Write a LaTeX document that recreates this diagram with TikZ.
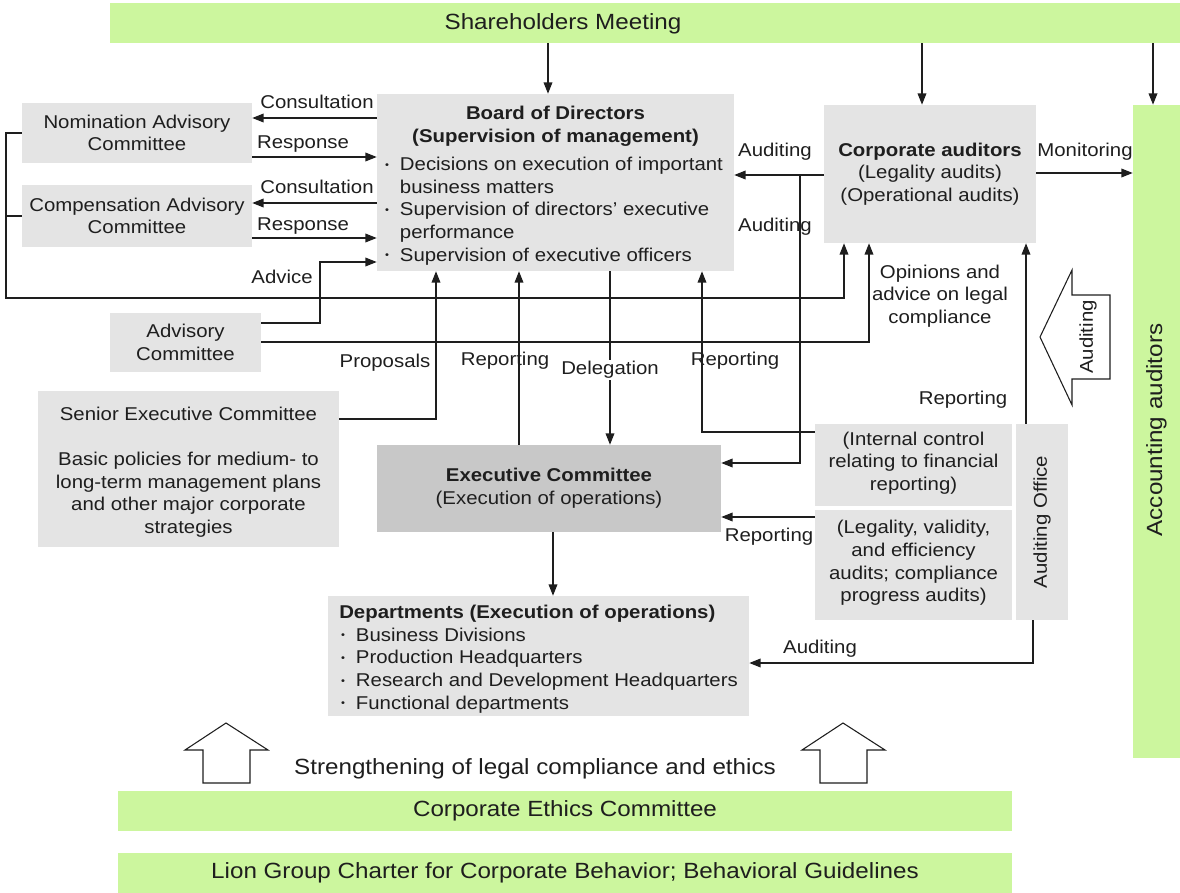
\documentclass[tikz,border=0pt]{standalone}
\usepackage{fontspec}
\setmainfont{Liberation Sans}[FakeStretch=1.1]
\usetikzlibrary{arrows.meta}

\definecolor{boxgray}{HTML}{E4E4E4}
\definecolor{execgray}{HTML}{C8C8C8}
\definecolor{bargreen}{HTML}{CCF69E}
\definecolor{ink}{HTML}{1E1E1E}

\newcommand\bodyfont{\fontsize{13.9pt}{17pt}\selectfont}
\newcommand\bigfont{\fontsize{16.5pt}{20pt}\selectfont}
\newcommand\dotitem{\makebox[0.9em][l]{\hspace{0.1em}\raisebox{0.12em}{\scalebox{0.55}{•}}}}

\begin{document}
\begin{tikzpicture}[x=0.75pt, y=-0.75pt,
  every node/.style={text=ink, font=\bodyfont},
  wh/.style 2 args={minimum width=#1*0.75pt, minimum height=#2*0.75pt},
  box/.style={fill=boxgray, inner sep=0pt, align=center},
  bar/.style={fill=bargreen, inner sep=0pt, align=center, font=\bigfont},
  arr/.style={draw=ink, line width=1pt, -{Triangle[length=8.5pt,width=6.5pt]}},
  wire/.style={draw=ink, line width=1pt},
  lbl/.style={inner sep=1pt},
  hollow/.style={draw=ink, line width=0.8pt, fill=white, line join=miter}
]
\useasboundingbox (0,0) rectangle (1180,892);

% ---- green bars ----
\node[bar, wh={1070}{40}] (sh) at (645,23) {};
\node[lbl, font=\bigfont] (sh-text) at (563,24) {Shareholders Meeting};
\node[bar, wh={47}{653}] (acc) at (1156.5,431.5) {};
\node[lbl, font=\bigfont, rotate=90] (acc-text) at (1156.5,430) {Accounting auditors};
\node[bar, wh={894}{40}] (ethics) at (565,811) {Corporate Ethics Committee};
\node[bar, wh={894}{40}] (charter) at (565,873) {Lion Group Charter for Corporate Behavior; Behavioral Guidelines};

% ---- board of directors ----
\node[box, wh={357}{177}] (board) at (555.5,182.5) {};
\node[lbl, align=center, font=\bodyfont\bfseries] (board-title) at (555.5,126)
  {Board of Directors\\(Supervision of management)};
\node[anchor=west, align=left, inner sep=0pt] (board-items) at (383,211)
  {\dotitem Decisions on execution of important\\
   \hphantom{\dotitem}business matters\\
   \dotitem Supervision of directors’ executive\\
   \hphantom{\dotitem}performance\\
   \dotitem Supervision of executive officers};

% ---- committees on the left ----
\node[box, wh={230}{60}] (nom) at (137,133) {Nomination Advisory\\Committee};
\node[box, wh={230}{62}] (comp) at (137,216) {Compensation Advisory\\Committee};
\node[box, wh={151}{59}] (advc) at (185.5,342.5) {Advisory\\Committee};
\node[box, wh={301}{156}] (sec) at (188.5,469) {};
\node[align=center, inner sep=0pt] (sec-text) at (188.5,472)
  {Senior Executive Committee\\[17pt]Basic policies for medium- to\\long-term management plans\\and other major corporate\\strategies};

% ---- auditors ----
\node[box, wh={212}{138}] (ca) at (930,174)
  {\textbf{Corporate auditors}\\(Legality audits)\\(Operational audits)};

% ---- execution side ----
\node[box, fill=execgray, wh={344}{87}] (exec) at (549,488.5)
  {\textbf{Executive Committee}\\(Execution of operations)};
\node[box, wh={197}{82}] (icfr) at (913.5,465) {};
\node[align=center, inner sep=0pt] (icfr-text) at (913.5,463)
  {(Internal control\\relating to financial\\reporting)};
\node[box, wh={197}{110}] (leg) at (913.5,565) {};
\node[align=center, inner sep=0pt] (leg-text) at (913.5,563)
  {(Legality, validity,\\and efficiency\\audits; compliance\\progress audits)};
\node[box, wh={52}{196}] (ao) at (1042,522) {};
\node[lbl, rotate=90] (ao-text) at (1042,522) {Auditing Office};
\node[box, wh={421}{120}] (dept) at (538.5,656) {};
\node[anchor=west, align=left, inner sep=0pt] (dept-text) at (339,659)
  {\textbf{Departments (Execution of operations)}\\
   \dotitem Business Divisions\\
   \dotitem Production Headquarters\\
   \dotitem Research and Development Headquarters\\
   \dotitem Functional departments};

% ---- connectors ----
\draw[arr] (sh.south -| 548,0) -- (548,0 |- board.north);
\draw[arr] (sh.south -| 922,0) -- (922,0 |- ca.north);
\draw[arr] (sh.south -| 1153,0) -- (1153,0 |- acc.north);

\draw[arr] (board.west |- 0,118) -- (nom.east |- 0,118);
\draw[arr] (nom.east |- 0,157) -- (board.west |- 0,157);
\draw[arr] (board.west |- 0,203) -- (comp.east |- 0,203);
\draw[arr] (comp.east |- 0,238) -- (board.west |- 0,238);
\draw[arr] (advc.east |- 0,323) -- (320,323) -- (320,262) -- (board.west |- 0,262);

\draw[wire] (comp.west |- 0,216) -- (6,216);
\draw[arr] (nom.west |- 0,133) -- (6,133) -- (6,298) -- (844,298) -- (844,0 |- ca.south);
\draw[arr] (advc.east |- 0,342) -- (869,342) -- (869,0 |- ca.south);

\draw[arr] (ca.west |- 0,175) -- (board.east |- 0,175);
\draw[arr] (800,175) -- (800,463) -- (exec.east |- 0,463);
\draw[arr] (ca.east |- 0,173) -- (acc.west |- 0,173);
\draw[arr] (ao.north -| 1026,0) -- (1026,0 |- ca.south);

\draw[arr] (sec.east |- 0,419) -- (436,419) -- (436,0 |- board.south);
\draw[arr] (519,0 |- exec.north) -- (519,0 |- board.south);
\draw[arr] (610,0 |- board.south) -- (610,0 |- exec.north);
\draw[arr] (icfr.west |- 0,432) -- (702,432) -- (702,0 |- board.south);
\draw[arr] (leg.west |- 0,517) -- (exec.east |- 0,517);
\draw[arr] (1033,0 |- ao.south) -- (1033,663) -- (dept.east |- 0,663);
\draw[arr] (553,0 |- exec.south) -- (553,0 |- dept.north);

% ---- connector labels ----
\node[lbl] (l-cons1) at (317,102) {Consultation};
\node[lbl] (l-resp1) at (303,144) {Response};
\node[lbl] (l-cons2) at (317,187) {Consultation};
\node[lbl] (l-resp2) at (303,226) {Response};
\node[lbl] (l-advice) at (282,277) {Advice};
\node[lbl] (l-aud1) at (775,152) {Auditing};
\node[lbl] (l-aud2) at (775,227) {Auditing};
\node[lbl] (l-mon) at (1085,152) {Monitoring};
\node[lbl, align=center] (l-opin) at (940,296) {Opinions and\\advice on legal\\compliance};
\node[lbl] (l-prop) at (385,363) {Proposals};
\node[lbl] (l-rep1) at (505,361) {Reporting};
\node[lbl, fill=white] (l-deleg) at (610,370) {Delegation};
\node[lbl] (l-rep2) at (735,361) {Reporting};
\node[lbl] (l-rep3) at (963,400) {Reporting};
\node[lbl] (l-rep4) at (769,537) {Reporting};
\node[lbl] (l-aud3) at (820,649) {Auditing};

% ---- hollow arrows ----
\draw[hollow] (1110,295) -- (1072,295) -- (1072,270) -- (1040,337) -- (1072,405)
  -- (1072,379) -- (1110,379) -- cycle;
\node[lbl, rotate=90] (l-aud-big) at (1088,337) {Auditing};

\draw[hollow] (203,783) -- (203,750) -- (185,750) -- (226,723) -- (268,750)
  -- (250,750) -- (250,783) -- cycle;
\draw[hollow] (820,783) -- (820,750) -- (802,750) -- (843,723) -- (885,750)
  -- (867,750) -- (867,783) -- cycle;
\node[lbl, font=\bigfont] (strength) at (535,769) {Strengthening of legal compliance and ethics};

\end{tikzpicture}
\end{document}
